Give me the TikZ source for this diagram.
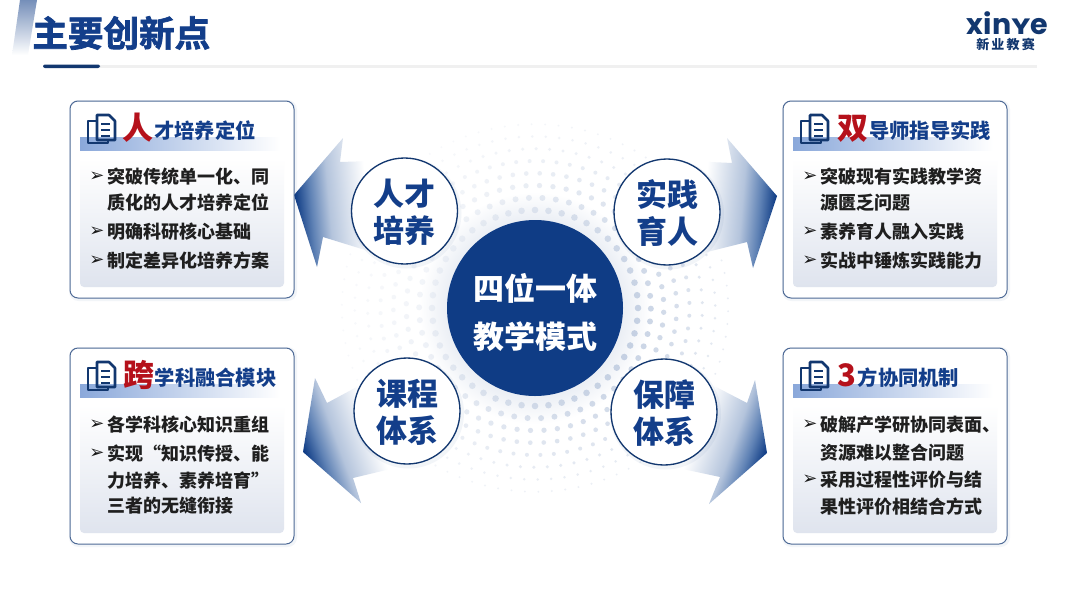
\documentclass[tikz,border=0pt]{standalone}
\usepackage{fontspec}
\setmainfont{Noto Sans CJK SC}
\newfontfamily\titlefont[FakeBold=2]{Noto Sans CJK SC Bold}
\newfontfamily\symfont{DejaVu Sans}
\newfontfamily\logofont{Poppins}
\newcommand{\px}[1]{\fontsize{\fpeval{#1*0.75}pt}{\fpeval{#1*0.9}pt}\selectfont}
\definecolor{navy}{HTML}{0F3C85}
\definecolor{navyd}{HTML}{12376F}
\definecolor{titleblue}{HTML}{133E8A}
\definecolor{redm}{HTML}{B5111B}
\definecolor{edgeb}{HTML}{4E6A96}
\definecolor{bandb}{HTML}{8AA8DA}
\definecolor{panelg}{HTML}{DFE4EE}
\definecolor{dotc}{HTML}{B3C2DA}
\definecolor{fademid}{HTML}{5F82B5}
\definecolor{fadelow}{HTML}{B4C4DC}
\pgfdeclarehorizontalshading{fadeleft}{100bp}{color(0bp)=(navy); color(26bp)=(navy); color(33bp)=(fademid); color(41bp)=(fadelow); color(58bp)=(white); color(100bp)=(white)}
\pgfdeclarehorizontalshading{faderight}{100bp}{color(0bp)=(white); color(42bp)=(white); color(59bp)=(fadelow); color(67bp)=(fademid); color(74bp)=(navy); color(100bp)=(navy)}
\tikzset{
  card/.style={draw=edgeb,line width=.75pt,rounded corners=6pt,fill=white},
  cardshadow/.style={fill=navy,opacity=.05,rounded corners=7pt,draw=none},
  panel/.style={rounded corners=3pt,top color=white,bottom color=panelg,draw=none},
  band/.style={left color=bandb,right color=white,draw=none},
  bodytxt/.style={anchor=west,inner sep=0pt,text=black!88,font=\px{18}\bfseries},
  bulletmark/.style={anchor=center,inner sep=0pt,text=black!90,font=\symfont\px{18}},
  headtxt/.style={anchor=base west,inner sep=0pt,text=titleblue,font=\px{20.3}\bfseries},
  headbig/.style={anchor=base west,inner sep=0pt,text=redm,font=\px{31}\bfseries},
  ringcirc/.style={circle,draw=navyd,line width=1pt,fill=white,minimum size=79.5pt,inner sep=0pt},
  ringtxt/.style={inner sep=0pt,align=center,text=titleblue,font=\px{31}\bfseries},
  hubcirc/.style={circle,fill=navy,minimum size=132pt,inner sep=0pt},
  hubtxt/.style={inner sep=0pt,align=center,text=white,font=\px{31}\bfseries},
  ringglow/.style={fill=navy,opacity=.05,draw=none},
}
\newcommand{\docicon}[2]{%
  \begin{scope}[shift={(#1,#2)},draw=navyd,line width=1.9pt,line join=round]
    \draw (9,0) -- (21,0) -- (27,6) -- (27,25) -- (9,25) -- cycle;
    \draw (9,6) -- (0,6) -- (0,28) -- (20,28) -- (20,25);
    \draw (13,9) -- (22,9) (13,15) -- (22,15) (13,21) -- (22,21);
  \end{scope}}
\begin{document}
\begin{tikzpicture}[x=0.75pt,y=-0.75pt]
\useasboundingbox (0,0) rectangle (1080,607);
\fill[white] (0,0) rectangle (1080,607);

% title decoration
\shade[top color=bandb!85!black,bottom color=white,draw=none] (20,0) -- (37,0) -- (28,55) -- (12,55) -- cycle;
\node[anchor=west,inner sep=0pt,text=titleblue,font=\titlefont\px{35.6}] (maintitle) at (32,33) {主要创新点};
\fill[black!6] (100,64.5) rectangle (1037,68);
\fill[navyd,rounded corners=1.5pt] (43,64.5) rectangle (100,68);

% logo
\node[inner sep=0pt,text=navyd,font=\logofont\bfseries\px{28.5},anchor=base] (logotxt) at (1007.5,34) {xin\scalebox{1}[0.78]{Y}e};
\node[inner sep=0pt,text=navyd,font=\px{13}\bfseries] (logosub) at (1005.5,44.5) {新\,业\,教\,赛};

% halo
\shade[inner color=navy!35,outer color=white] (535,308) circle (116);

% dotted rings
\foreach \i in {0,...,7}{
  \pgfmathsetmacro{\rr}{100+12.5*\i}
  \pgfmathtruncatemacro{\nn}{2*3.1416*\rr/13}
  \pgfmathsetmacro{\ds}{3.3-0.32*\i}
  \foreach \k in {1,...,\nn}{
    \pgfmathsetmacro{\aa}{360/\nn*\k+7*\i}
    \pgfmathsetmacro{\op}{max(0.10,(0.72-0.06*\i)*(0.62+0.38*cos(\aa-20)))}
    \fill[dotc,opacity=\op] ({535+1.03*\rr*cos(\aa)},{308+0.98*\rr*sin(\aa)}) circle (\ds);
  }
}

% arrows
\shade[shading=fadeleft,shading angle=5,draw=none]
  (294,195) -- (343,138) -- (340,162) -- (404,160) -- (404,262) -- (323,237) -- (317,267) -- cycle;
\shade[shading=faderight,shading angle=-5,draw=none]
  (777,196) -- (727,138) -- (732,163) -- (667,160) -- (667,262) -- (747,242) -- (753,268) -- cycle;
\shade[shading=fadeleft,shading angle=20,draw=none]
  (303,452) -- (315,378) -- (327,403) -- (407,360) -- (407,465) -- (353,478) -- (361,503) -- cycle;
\shade[shading=faderight,shading angle=-20,draw=none]
  (767,453) -- (755,380) -- (747,403) -- (664,360) -- (664,465) -- (720,477) -- (709,504) -- cycle;

% hub and spokes
\fill[ringglow] (406,213) circle (55.5);
\fill[ringglow] (668.5,214) circle (55.5);
\fill[ringglow] (408.5,413) circle (55.5);
\fill[ringglow] (665.5,414) circle (55.5);
\node[hubcirc] (hub) at (535,308) {};
\node[hubtxt] (hubtext) at ([yshift=-3.4pt]hub.center) {四位一体\\[7.5pt]教学模式};
\node[ringcirc] (talent) at (404.5,211) {};
\node[ringtxt] (talenttext) at ([yshift=-1pt]talent.center) {人才\\[0pt]培养};
\node[ringcirc] (practice) at (667,212) {};
\node[ringtxt] (practicetext) at ([yshift=-1pt]practice.center) {实践\\[0pt]育人};
\node[ringcirc] (course) at (407,411) {};
\node[ringtxt] (coursetext) at ([yshift=-1pt]course.center) {课程\\[0pt]体系};
\node[ringcirc] (support) at (664,412) {};
\node[ringtxt] (supporttext) at ([yshift=-1pt]support.center) {保障\\[0pt]体系};

% cards
\fill[cardshadow] (69,100) rectangle (297,301);
\draw[card] (70,101) rectangle (294,298);
\shade[panel] (80,158) rectangle (284,287);
\shade[band] (80,137) rectangle (280,150);
\docicon{88}{115}
\node[headbig] (h1a) at (122,139) {人};
\node[headtxt] (h1b) at (154,138.5) {才培养定位};
\node[bulletmark] (b1a) at (97,177) {➢};
\node[bodytxt] (t1a) at (107,177) {突破传统单一化、同};
\node[bodytxt] (t1b) at (107,203) {质化的人才培养定位};
\node[bulletmark] (b1b) at (97,232) {➢};
\node[bodytxt] (t1c) at (107,232) {明确科研核心基础};
\node[bulletmark] (b1c) at (97,261) {➢};
\node[bodytxt] (t1d) at (107,261) {制定差异化培养方案};

\fill[cardshadow] (782,100) rectangle (1010,301);
\draw[card] (783,101) rectangle (1007,298);
\shade[panel] (793,158) rectangle (997,287);
\shade[band] (793,137) rectangle (993,150);
\docicon{801}{115}
\node[headbig] (h2a) at (837,139) {双};
\node[headtxt] (h2b) at (869,138.5) {导师指导实践};
\node[bulletmark] (b2a) at (810,177) {➢};
\node[bodytxt] (t2a) at (820,177) {突破现有实践教学资};
\node[bodytxt] (t2b) at (820,203) {源匮乏问题};
\node[bulletmark] (b2b) at (810,232) {➢};
\node[bodytxt] (t2c) at (820,232) {素养育人融入实践};
\node[bulletmark] (b2c) at (810,261) {➢};
\node[bodytxt] (t2d) at (820,261) {实战中锤炼实践能力};

\fill[cardshadow] (69,347) rectangle (297,547);
\draw[card] (70,348) rectangle (294,544);
\shade[panel] (80,405) rectangle (284,533);
\shade[band] (80,384) rectangle (280,397);
\docicon{88}{362}
\node[headbig] (h3a) at (123,386) {跨};
\node[headtxt] (h3b) at (154.5,385.5) {学科融合模块};
\node[bulletmark] (b3a) at (97,425) {➢};
\node[bodytxt] (t3a) at (107,425) {各学科核心知识重组};
\node[bulletmark] (b3b) at (97,454) {➢};
\node[bodytxt] (t3b) at (107,454) {实现“知识传授、能};
\node[bodytxt] (t3c) at (107,481) {力培养、素养培育”};
\node[bodytxt] (t3d) at (107,506) {三者的无缝衔接};

\fill[cardshadow] (782,347) rectangle (1010,547);
\draw[card] (783,348) rectangle (1007,544);
\shade[panel] (793,405) rectangle (997,533);
\shade[band] (793,384) rectangle (993,397);
\docicon{801}{362}
\node[headbig] (h4a) at (837,386) {3};
\node[headtxt] (h4b) at (857.5,385.5) {方协同机制};
\node[bulletmark] (b4a) at (810,425) {➢};
\node[bodytxt] (t4a) at (820,425) {破解产学研协同表面、};
\node[bodytxt] (t4b) at (820,453) {资源难以整合问题};
\node[bulletmark] (b4b) at (810,480) {➢};
\node[bodytxt] (t4c) at (820,480) {采用过程性评价与结};
\node[bodytxt] (t4d) at (820,507) {果性评价相结合方式};
\end{tikzpicture}
\end{document}
